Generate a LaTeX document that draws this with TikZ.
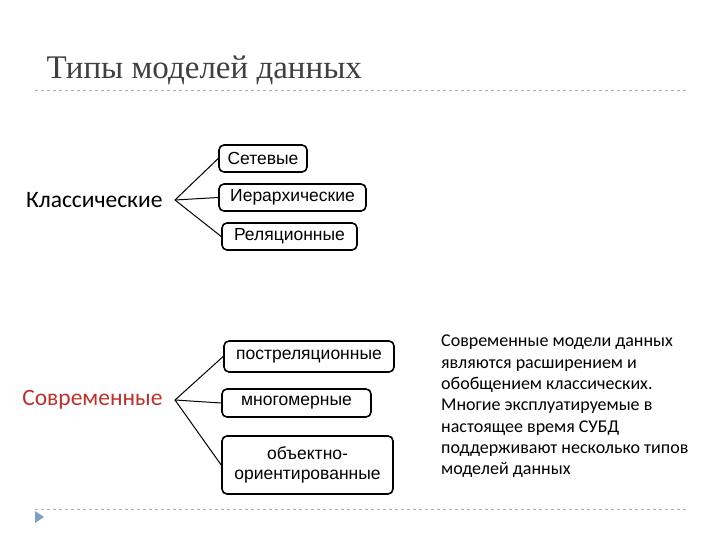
\documentclass[tikz,border=0pt]{standalone}
\usepackage{fontspec}
\setmainfont{Carlito}
\newfontfamily\arialf{Liberation Sans}
\newfontfamily\titlef{Liberation Serif}
\definecolor{titlegray}{HTML}{404040}
\definecolor{redc}{HTML}{C0302A}
\definecolor{dashg}{HTML}{B0B0B0}
\definecolor{triblue}{HTML}{7F9FC8}
\begin{document}
\begin{tikzpicture}[x=1pt,y=-1pt,
  bx/.style={draw,line width=1.6pt,rounded corners=5pt,font=\arialf\fontsize{17.5}{20}\selectfont,inner sep=0pt,align=center},
  cn/.style={draw,line width=1pt},
  sep/.style={draw=dashg,dashed,line width=0.6pt}]
\useasboundingbox (0,0) rectangle (720,540);
\node[anchor=west,text=titlegray,font=\titlef\fontsize{33}{36}\selectfont] (t) at (43,70) {Типы моделей данных};
\coordinate (l1a) at (35,90); \coordinate (l1b) at (688,90);
\draw[sep] (l1a) -- (l1b);
\coordinate (l2a) at (35,509); \coordinate (l2b) at (688,509);
\draw[sep] (l2a) -- (l2b);
\fill[triblue] (35,511) -- (44,517) -- (35,523) -- cycle;

\node[font=\fontsize{23.5}{26}\selectfont,anchor=east] (k) at (166,200) {Классические};
\coordinate (kf) at (175,200);
\node[bx,minimum width=88,minimum height=27] (s) at (263,158.5) {Сетевые};
\node[bx,minimum width=147,minimum height=27] (i) at (292.5,197.5) {Иерархические};
\node[bx,minimum width=135,minimum height=27] (r) at (289.5,236.5) {Реляционные};
\draw[cn] (s.west) -- (kf) -- (r.west);
\draw[cn] (kf) -- (i.west);

\node[font=\fontsize{23.5}{26}\selectfont,anchor=east,text=redc] (c) at (166,400) {Современные};
\coordinate (cf) at (175,400);
\node[bx,minimum width=170,minimum height=31] (p) at (309,356.5) {постреляционные};
\node[bx,minimum width=149,minimum height=28] (m) at (296.5,403) {многомерные};
\node[bx,minimum width=171,minimum height=58] (o) at (307.5,465) {объектно-\\ориентированные};
\draw[cn] (p.west) -- (cf) -- (o.west);
\draw[cn] (cf) -- (m.west);

\node[anchor=north west,align=left,font=\fontsize{18}{21.3}\selectfont,inner sep=0pt] (d) at (441,335) {Современные модели данных\\являются расширением и\\обобщением классических.\\Многие эксплуатируемые в\\настоящее время СУБД\\поддерживают несколько типов\\моделей данных};
\end{tikzpicture}
\end{document}
